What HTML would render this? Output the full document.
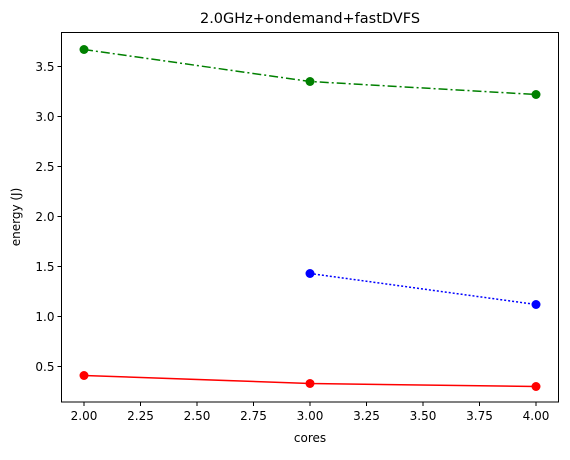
<!DOCTYPE html>
<html><head><meta charset="utf-8"><style>
body{margin:0;background:#fff;}
svg text{font-family:"DejaVu Sans","Liberation Sans",sans-serif;fill:#000;}
</style></head><body>
<svg id="chart" width="570" height="455">
<text x="310" y="23" font-size="14.5" text-anchor="middle">2.0GHz+ondemand+fastDVFS</text>
<text x="310" y="442" font-size="12" text-anchor="middle">cores</text>
<text transform="translate(20,217) rotate(-90)" font-size="12" text-anchor="middle">energy (J)</text>
<g id="axes"></g>
<g id="series"></g>
</svg>
<script>
const xTicks=[2.0,2.25,2.5,2.75,3.0,3.25,3.5,3.75,4.0];
const xTickLabels=["2.00","2.25","2.50","2.75","3.00","3.25","3.50","3.75","4.00"];
const yTicks=[0.5,1.0,1.5,2.0,2.5,3.0,3.5];
const yTickLabels=["0.5","1.0","1.5","2.0","2.5","3.0","3.5"];
const redX=[2,3,4];
const redY=[0.41,0.33,0.30];
const greenX=[2,3,4];
const greenY=[3.67,3.35,3.22];
const blueX=[3,4];
const blueY=[1.43,1.12];

const L=61.5,R=558.5,T=32.5,B=402;
function sx(v){return 84+(v-2)*226;}
function sy(v){return 366.5-(v-0.5)*100;}
const NS="http://www.w3.org/2000/svg";
const axes=document.getElementById('axes');
const ser=document.getElementById('series');
function mk(tag,attrs,parent){const e=document.createElementNS(NS,tag);for(const k in attrs)e.setAttribute(k,attrs[k]);parent.appendChild(e);return e;}
const frame=mk('rect',{x:L,y:T,width:R-L,height:B-T,fill:'none',stroke:'#000','stroke-width':1},axes);


xTicks.forEach((t,i)=>{
  const x=sx(t);
  const l=mk('line',{x1:x,x2:x,y1:B,y2:B+4,stroke:'#000'},axes);
  
  
  const tx=mk('text',{x:x,y:B+18,'font-size':12,'text-anchor':'middle'},axes);
  tx.textContent=xTickLabels[i];
  
  
});
yTicks.forEach((t,i)=>{
  const y=sy(t);
  const l=mk('line',{x1:L-4,x2:L,y1:y,y2:y,stroke:'#000'},axes);
  
  
  const tx=mk('text',{x:L-7,y:y+4.5,'font-size':12,'text-anchor':'end'},axes);
  tx.textContent=yTickLabels[i];
  
  
});
function series(xs,ys,color,dash,name){
  const pts=xs.map((x,i)=>sx(x)+','+sy(ys[i])).join(' ');
  const pl=mk('polyline',{points:pts,fill:'none',stroke:color,'stroke-width':1.5,'stroke-dasharray':dash},ser);
  
  
  xs.forEach((x,i)=>{
    const c=mk('circle',{cx:sx(x),cy:sy(ys[i]),r:4.5,fill:color},ser);
    
    
  });
}
series(redX,redY,'#ff0000','none','red-series');
series(greenX,greenY,'#008000','9,3,2,3','green-series');
series(blueX,blueY,'#0000ff','2,2','blue-series');
</script>
</body></html>
